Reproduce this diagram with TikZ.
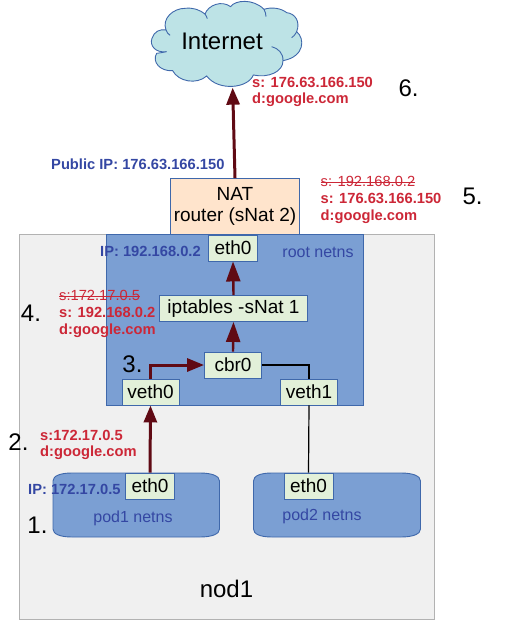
\documentclass[tikz,border=0pt]{standalone}
\usepackage{fontspec}
\setmainfont{Liberation Sans}
\usetikzlibrary{arrows.meta}
\definecolor{nodfill}{HTML}{F0F0F0}
\definecolor{nodline}{HTML}{B2B2B2}
\definecolor{netfill}{HTML}{7B9FD3}
\definecolor{netline}{HTML}{3F68AB}
\definecolor{boxfill}{HTML}{E2F0D9}
\definecolor{natfill}{HTML}{FFE4CC}
\definecolor{cloudfill}{HTML}{BDE3E6}
\definecolor{bluetxt}{HTML}{3447A3}
\definecolor{redtxt}{HTML}{CC2737}
\definecolor{flow}{HTML}{600A14}
\newcommand\strk[1]{\setbox0\hbox{#1}\rlap{\rule[.3em]{\wd0}{.7pt}}\box0}
\tikzset{
  x=1pt,y=-1pt,
  boxed/.style={draw=netline,fill=boxfill,line width=.9pt,inner sep=0pt,font=\fontsize{19}{21.5}\selectfont,text=black,anchor=center},
  netshape/.style={draw=netline,fill=netfill,line width=.9pt},
  bold label/.style={inner sep=0pt,anchor=west,align=left,font=\fontsize{14.7}{16.6}\selectfont\bfseries},
  redlabel/.style={bold label,text=redtxt},
  bluelabel/.style={bold label,text=bluetxt},
  netname/.style={inner sep=0pt,text=bluetxt,font=\fontsize{16}{18}\selectfont},
  stepnum/.style={inner sep=0pt,text=black,font=\fontsize{24}{26}\selectfont},
  flowline/.style={draw=flow,line width=3pt,-{Triangle[length=17pt,width=13pt]}},
  flowthin/.style={draw=flow,line width=2.4pt,-{Triangle[length=20pt,width=14pt]}},
  plainline/.style={draw=black,line width=1.2pt},
}
\begin{document}
\begin{tikzpicture}
\useasboundingbox (0,0) rectangle (507,620);
% node area and namespaces
\node[draw=nodline,fill=nodfill,line width=1pt,minimum width=415pt,minimum height=384.5pt,inner sep=0pt] (nod) at (227,426.75) {};
\node[netshape,minimum width=257pt,minimum height=170.5pt,inner sep=0pt] (root) at (235,319.75) {};
\node[boxed,fill=natfill,minimum width=129pt,minimum height=55.5pt,align=center] (router) at (235,206.25) {NAT\\router (sNat 2)};
\path[netshape] (53,481) .. controls (53,476) and (60,473) .. (72,473) -- (200,473) .. controls (212,473) and (219.5,476) .. (219.5,481)
  -- (219.5,529) .. controls (219.5,534) and (212,537) .. (200,537) -- (72,537) .. controls (60,537) and (53,534) .. (53,529) -- cycle;
\path[netshape] (253.5,481) .. controls (253.5,476) and (260,473) .. (272,473) -- (401,473) .. controls (413,473) and (420.5,476) .. (420.5,481)
  -- (420.5,529) .. controls (420.5,534) and (413,537) .. (401,537) -- (272,537) .. controls (260,537) and (253.5,534) .. (253.5,529) -- cycle;
% cloud
\begin{scope}[shift={(140,0)},x=.3333pt,y=-.3333pt]
\path[draw=netline,fill=cloudfill,line width=.9pt]
 (80,155) .. controls (45,160) and (28,135) .. (36,115) .. controls (42,95) and (60,86) .. (78,90)
 .. controls (65,55) and (100,25) .. (135,25) .. controls (160,22) and (180,30) .. (195,42)
 .. controls (205,15) and (245,0) .. (272,20)
 .. controls (285,0) and (340,-5) .. (372,28)
 .. controls (395,20) and (425,25) .. (440,38)
 .. controls (465,40) and (482,65) .. (470,95)
 .. controls (495,115) and (495,170) .. (429,182)
 .. controls (430,215) and (385,235) .. (340,225)
 .. controls (325,265) and (235,275) .. (200,228)
 .. controls (170,255) and (115,245) .. (98,212)
 .. controls (60,215) and (35,185) .. (50,160)
 .. controls (60,158) and (70,158) .. (80,155) -- cycle;
\draw[netline,line width=.9pt] (395,140) .. controls (415,145) and (430,160) .. (429,182);
\draw[netline,line width=.9pt] (470,95) .. controls (465,105) and (460,110) .. (455,113);
\draw[netline,line width=.9pt] (372,28) .. controls (376,36) and (378,42) .. (378,50);
\draw[netline,line width=.9pt] (195,42) .. controls (198,46) and (200,50) .. (202,56);
\draw[netline,line width=.9pt] (78,90) .. controls (80,96) and (84,102) .. (90,106);
\coordinate (cloudbottom) at (278,263);
\end{scope}
\node[inner sep=0pt,font=\fontsize{24}{26}\selectfont] (internet) at (222,41) {Internet};
% boxes
\node[boxed,minimum width=49pt,minimum height=26pt] (rooteth) at (233,248) {eth0};
\node[boxed,minimum width=148pt,minimum height=26pt] (ipt) at (233.5,308.5) {iptables -sNat 1};
\node[boxed,minimum width=57pt,minimum height=26pt] (cbr) at (233,365) {cbr0};
\node[boxed,minimum width=57pt,minimum height=26pt] (vethz) at (150.5,392) {veth0};
\node[boxed,minimum width=57pt,minimum height=26pt] (vetho) at (309,392) {veth1};
\node[boxed,minimum width=49pt,minimum height=26pt] (podaeth) at (150,486) {eth0};
\node[boxed,minimum width=49pt,minimum height=26pt] (podbeth) at (308.5,486) {eth0};
% connectors
\draw[plainline] (cbr.east) -| (vetho.north);
\draw[plainline] (podbeth.north) -- (vetho.south);
\draw[flowline] (podaeth.north) -- (vethz.south);
\draw[flowline] (vethz.north) |- (cbr.west);
\draw[flowthin] (cbr.north) -- (ipt.south);
\draw[flowthin] (ipt.north) -- (rooteth.south);
\draw[flowline] (router.north) -- (cloudbottom);
% labels
\node[bluelabel] (pubip) at (51,164.5) {Public IP: 176.63.166.150};
\node[bluelabel] (rootip) at (100,251) {IP: 192.168.0.2};
\node[bluelabel] (podip) at (28,489) {IP: 172.17.0.5};
\node[redlabel] (lblsix) at (252,92) {s: 176.63.166.150\\d:google.com};
\node[redlabel] (lblfive) at (320.5,200) {{\mdseries\strk{s: 192.168.0.2}}\\s: 176.63.166.150\\d:google.com};
\node[redlabel] (lblfour) at (59,314) {{\mdseries\strk{s:172.17.0.5}}\\s: 192.168.0.2\\d:google.com};
\node[redlabel] (lbltwo) at (40,445) {s:172.17.0.5\\d:google.com};
\node[netname] (rootname) at (318,252) {root netns};
\node[netname] (podaname) at (133,518.5) {pod1 netns};
\node[netname] (podbname) at (322,516.5) {pod2 netns};
\node[inner sep=0pt,font=\fontsize{24}{26}\selectfont] (nodname) at (226.5,589) {nod1};
\node[stepnum] (one) at (37.5,525.5) {1.};
\node[stepnum] (two) at (18.5,442.5) {2.};
\node[stepnum] (three) at (132.5,364) {3.};
\node[stepnum] (four) at (31,313) {4.};
\node[stepnum] (five) at (472.5,196) {5.};
\node[stepnum] (six) at (408.5,88) {6.};
\end{tikzpicture}
\end{document}
